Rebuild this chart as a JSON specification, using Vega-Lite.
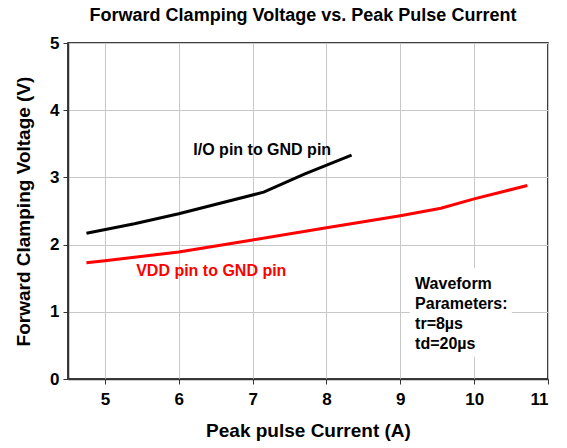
{
  "$schema": "https://vega.github.io/schema/vega-lite/v6.json",
  "autosize": {"type": "none"},
  "padding": {"left": 68, "top": 43, "right": 19, "bottom": 69},
  "width": 480,
  "height": 336,
  "title": {"text": "Forward Clamping Voltage vs. Peak Pulse Current", "font": "Liberation Sans", "fontSize": 18, "fontWeight": "bold", "color": "#000", "offset": 9, "anchor": "middle", "dx": -5},
  "config": {
    "view": {"stroke": "#000", "strokeWidth": 1.5},
    "axis": {"labelFont": "Liberation Sans", "labelFontSize": 17, "labelFontWeight": "bold", "labelColor": "#000", "titleFont": "Liberation Sans", "titleFontSize": 19, "titleFontWeight": "bold", "titleColor": "#000", "gridColor": "#c8c8c8", "gridWidth": 1, "domainColor": "#333", "domainWidth": 1.5, "tickColor": "#333", "tickSize": 5}
  },
  "datasets": {
    "curves": [
      {"current": 4.75, "voltage": 2.17, "series": "IO"},
      {"current": 5.4, "voltage": 2.31, "series": "IO"},
      {"current": 6.0, "voltage": 2.46, "series": "IO"},
      {"current": 7.15, "voltage": 2.78, "series": "IO"},
      {"current": 7.7, "voltage": 3.05, "series": "IO"},
      {"current": 8.34, "voltage": 3.33, "series": "IO"},
      {"current": 4.75, "voltage": 1.73, "series": "VDD"},
      {"current": 5.0, "voltage": 1.76, "series": "VDD"},
      {"current": 6.0, "voltage": 1.89, "series": "VDD"},
      {"current": 7.0, "voltage": 2.07, "series": "VDD"},
      {"current": 8.0, "voltage": 2.25, "series": "VDD"},
      {"current": 9.0, "voltage": 2.43, "series": "VDD"},
      {"current": 9.55, "voltage": 2.54, "series": "VDD"},
      {"current": 10.0, "voltage": 2.68, "series": "VDD"},
      {"current": 10.72, "voltage": 2.88, "series": "VDD"}
    ],
    "labels": [
      {"current": 7.13, "voltage": 3.41, "text": "I/O pin to GND pin", "series": "IO"},
      {"current": 6.44, "voltage": 1.6, "text": "VDD pin to GND pin", "series": "VDD"}
    ],
    "box": [{"x1": 9.13, "x2": 10.51, "y1": 0.33, "y2": 1.65}],
    "notes": [
      {"current": 9.2, "voltage": 1.41, "text": "Waveform"},
      {"current": 9.2, "voltage": 1.12, "text": "Parameters:"},
      {"current": 9.2, "voltage": 0.82, "text": "tr=8µs"},
      {"current": 9.2, "voltage": 0.52, "text": "td=20µs"}
    ]
  },
  "layer": [
    {
      "data": {"name": "box"},
      "mark": {"type": "rect", "fill": "#fff", "stroke": null},
      "encoding": {
        "x": {"field": "x1", "type": "quantitative", "scale": {"domain": [4.5, 11], "nice": false, "zero": false}, "axis": {"values": [5, 6, 7, 8, 9, 10, 11], "title": "Peak pulse Current (A)", "titlePadding": 14, "labelPadding": 7, "format": "d"}},
        "x2": {"field": "x2"},
        "y": {"field": "y1", "type": "quantitative", "scale": {"domain": [0, 5], "nice": false}, "axis": {"values": [0, 1, 2, 3, 4, 5], "title": "Forward Clamping Voltage (V)", "titlePadding": 16, "labelPadding": 4, "format": "d"}},
        "y2": {"field": "y2"}
      }
    },
    {
      "data": {"name": "curves"},
      "mark": {"type": "line", "strokeWidth": 3},
      "encoding": {
        "x": {"field": "current", "type": "quantitative"},
        "y": {"field": "voltage", "type": "quantitative"},
        "color": {"field": "series", "type": "nominal", "scale": {"domain": ["IO", "VDD"], "range": ["#000000", "#ff0000"]}, "legend": null},
        "order": {"field": "current", "type": "quantitative"}
      }
    },
    {
      "data": {"name": "labels"},
      "mark": {"type": "text", "font": "Liberation Sans", "fontSize": 16, "fontWeight": "bold", "align": "center", "baseline": "middle"},
      "encoding": {
        "x": {"field": "current", "type": "quantitative"},
        "y": {"field": "voltage", "type": "quantitative"},
        "text": {"field": "text"},
        "color": {"field": "series", "type": "nominal", "scale": {"domain": ["IO", "VDD"], "range": ["#000000", "#ff0000"]}, "legend": null}
      }
    },
    {
      "data": {"name": "notes"},
      "mark": {"type": "text", "font": "Liberation Sans", "fontSize": 16, "fontWeight": "bold", "align": "left", "baseline": "middle", "color": "#000"},
      "encoding": {
        "x": {"field": "current", "type": "quantitative"},
        "y": {"field": "voltage", "type": "quantitative"},
        "text": {"field": "text"}
      }
    }
  ]
}
